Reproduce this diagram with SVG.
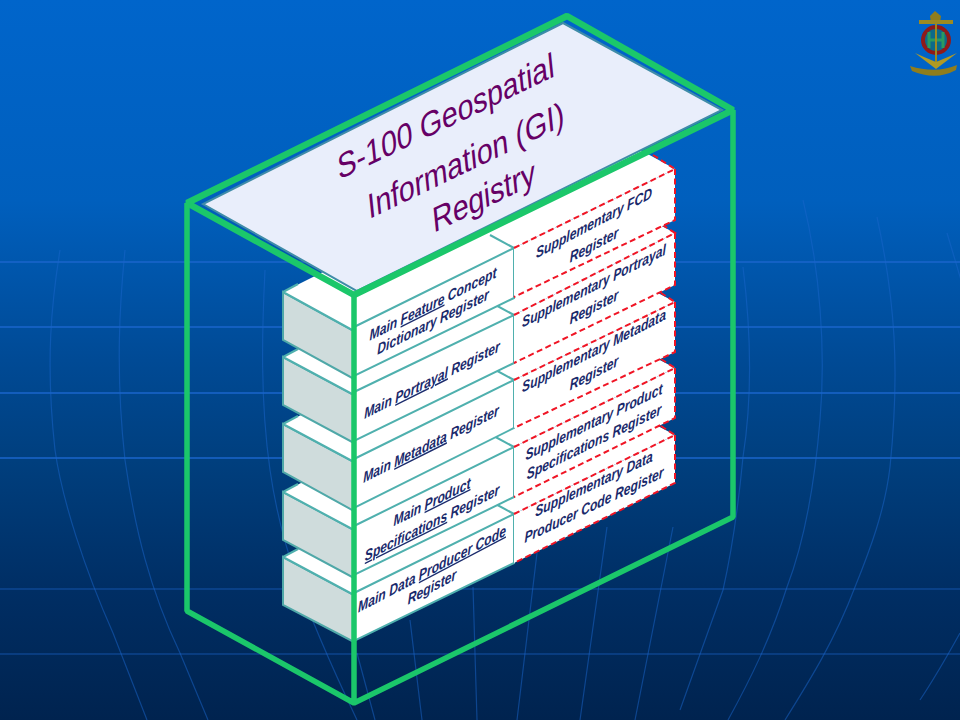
<svg xmlns="http://www.w3.org/2000/svg" width="960" height="720" viewBox="0 0 960 720">
<style>
.grid{fill:none;stroke:#1a66cc;stroke-width:1.5}
.mer{fill:none;stroke:#1a66cc;stroke-width:1.2;opacity:.5}
.top{fill:#fff;stroke:none}
.front{fill:#fff;stroke:#4fb0ae;stroke-width:2}
.side{fill:#cfdcdc;stroke:#4fa8a8;stroke-width:2}
.tl{fill:none;stroke:#4fb0ae;stroke-width:2}
.sf{fill:#fff;stroke:none}
.rd{fill:none;stroke:#f01525;stroke-width:2;stroke-dasharray:6 3.5}
.t{font-family:"Liberation Sans",Arial,sans-serif;font-weight:bold;font-style:italic;font-size:15.2px;fill:#1a2a6c;text-anchor:middle}
.u{text-decoration:underline}
.title{font-family:"Liberation Sans",Arial,sans-serif;font-size:35px;fill:#660066;text-anchor:middle}
</style>
<defs>
<linearGradient id="bg" x1="0" y1="0" x2="0" y2="1">
<stop offset="0" stop-color="#0065cb"/><stop offset=".28" stop-color="#005fbd"/><stop offset=".5" stop-color="#004a95"/><stop offset=".64" stop-color="#003f7e"/><stop offset=".82" stop-color="#002e64"/><stop offset="1" stop-color="#00234f"/>
</linearGradient>
</defs>
<g id="background">
<rect width="960" height="720" fill="url(#bg)"/>
<g class="grid">
<path d="M0 262H960M0 327H960M0 393H960M0 458H960"/>
<path d="M0 589H960M0 654H960" opacity=".45"/>
</g>
<g class="mer">
<path d="M60 250C52 300 45 360 55 450C62 500 85 570 113 633L147 720"/>
<path d="M125 250C120 300 115 370 125 460C135 530 150 590 180 653L208 720"/>
<path d="M265 270C262 330 260 400 270 470C280 540 300 600 357 720"/>
<path d="M357 653L375 720M410 620L422 720M473 587L477 720M537 553L517 720M607 527L580 720M673 527L635 720"/>
<path d="M743 267C752 340 752 400 743 457C738 510 732 550 723 590L680 710"/>
<path d="M803 200C820 270 826 350 820 420C815 480 805 540 787 587C770 640 750 680 728 720"/>
<path d="M877 217C895 300 900 370 890 467C885 510 870 550 855 587C835 640 810 680 785 720"/>
<path d="M947 233L967 300M960 633C945 660 930 685 920 700"/>
</g>
</g>
<g id="logo">
<path d="M935 11L941 16L940 23H931L930 16Z" fill="#8f7d1c"/>
<rect x="919" y="20" width="34" height="4" fill="#9c8a22"/>
<circle cx="936" cy="40" r="13" fill="#0d6a8a" stroke="#8f1a1a" stroke-width="4"/>
<path d="M929 32V48M943 32V48M929 40H943" stroke="#2a9a60" stroke-width="3" fill="none"/>
<path d="M936 24V64" stroke="#9c8a22" stroke-width="2"/>
<path d="M915 53L936 69L957 53L948 57L936 62L924 57Z" fill="#b09a24"/>
<path d="M910 66Q936 74 957 65L956 70Q936 81 912 71Z" fill="#8f7d1c"/>
</g>
<g id="block5">
<polygon class="side" points="283,557 354,595 354,642 283,605"/>
<polygon class="top" points="283,557 323,537 635,414 675,435 514,514 354,593 354,595"/>
<path class="tl" d="M283,557L354,595M283,557L298,549"/>
<polygon class="front" points="354,593 514,514 514,563 354,641"/>
<path class="tl" d="M514,514L490,501"/>
<polygon class="sf" points="514,514 675,435 675,483 514,563"/>
<path class="rd" d="M514,514L675,435L661,426M675,435V483L514,563"/>
<text class="t" transform="matrix(.8,-.42,0,1,432,574)">Main Data <tspan class="u">Producer Code</tspan></text>
<text class="t" transform="matrix(.8,-.42,0,1,432,592)">Register</text>
<text class="t" transform="matrix(.8,-.38,0,1,594,489)">Supplementary Data</text>
<text class="t" transform="matrix(.8,-.38,0,1,594,510)">Producer Code Register</text>
</g>
<g id="block4">
<polygon class="side" points="283,492 354,530 354,578 283,540"/>
<polygon class="top" points="283,492 323,472 635,347 675,368 514,447 354,526 354,530"/>
<path class="tl" d="M283,492L354,530M283,492L298,484"/>
<polygon class="front" points="354,526 514,447 514,497 354,575"/>
<path class="tl" d="M514,447L490,434"/>
<polygon class="sf" points="514,447 675,368 675,418 514,497"/>
<path class="rd" d="M514,447L675,368L661,359M675,368V418L514,497"/>
<text class="t" transform="matrix(.8,-.4,0,1,432,507)">Main <tspan class="u">Product</tspan></text>
<text class="t" transform="matrix(.8,-.4,0,1,432,528)"><tspan class="u">Specifications</tspan> Register</text>
<text class="t" transform="matrix(.8,-.39,0,1,594,427)">Supplementary Product</text>
<text class="t" transform="matrix(.8,-.39,0,1,594,447)">Specifications Register</text>
</g>
<g id="block3">
<polygon class="side" points="283,424 354,462 354,511 283,472"/>
<polygon class="top" points="283,424 323,404 635,281 675,302 514,380 354,459 354,462"/>
<path class="tl" d="M283,424L354,462M283,424L298,416"/>
<polygon class="front" points="354,459 514,380 514,428 354,508"/>
<path class="tl" d="M514,380L490,367"/>
<polygon class="sf" points="514,380 675,302 675,352 514,428"/>
<path class="rd" d="M514,380L675,302L661,293M675,302V352L514,428"/>
<text class="t" transform="matrix(.8,-.4,0,1,431,449)">Main <tspan class="u">Metadata</tspan> Register</text>
<text class="t" transform="matrix(.8,-.41,0,1,594,356)">Supplementary Metadata</text>
<text class="t" transform="matrix(.8,-.41,0,1,594,378)">Register</text>
</g>
<g id="block2">
<polygon class="side" points="283,357 354,395 354,443 283,405"/>
<polygon class="top" points="283,357 323,337 635,212 675,233 514,315 354,392 354,395"/>
<path class="tl" d="M283,357L354,395M283,357L298,349"/>
<polygon class="front" points="354,392 514,315 514,363 354,441"/>
<path class="tl" d="M514,315L490,302"/>
<polygon class="sf" points="514,315 675,233 675,285 514,363"/>
<path class="rd" d="M514,315L675,233L661,224M675,233V285L514,363"/>
<text class="t" transform="matrix(.8,-.4,0,1,432,385)">Main <tspan class="u">Portrayal</tspan> Register</text>
<text class="t" transform="matrix(.8,-.41,0,1,594,291)">Supplementary Portrayal</text>
<text class="t" transform="matrix(.8,-.41,0,1,594,312)">Register</text>
</g>
<g id="block1">
<polygon class="side" points="283,292 354,331 354,379 283,340"/>
<polygon class="top" points="283,292 323,272 635,147 675,169 514,248 354,327 354,331"/>
<path class="tl" d="M283,292L354,331M283,292L298,284"/>
<polygon class="front" points="354,327 514,248 514,298 354,376"/>
<path class="tl" d="M514,248L490,235"/>
<polygon class="sf" points="514,248 675,169 675,220 514,297"/>
<path class="rd" d="M514,248L675,169L653,155M675,169V220L514,297"/>
<text class="t" transform="matrix(.8,-.4,0,1,433,309)">Main <tspan class="u">Feature</tspan> Concept</text>
<text class="t" transform="matrix(.8,-.4,0,1,433,327)">Dictionary Register</text>
<text class="t" transform="matrix(.8,-.42,0,1,594,228)">Supplementary FCD</text>
<text class="t" transform="matrix(.8,-.42,0,1,594,250)">Register</text>
</g>
<g id="registry-top">
<polygon points="563,23 722,110 357,291 203,204" fill="#e9eefb" stroke="#3f8ca8" stroke-width="2"/>
<text class="title" transform="matrix(.8,-.385,.1,.98,447,128)">S-100 Geospatial</text>
<text class="title" transform="matrix(.8,-.385,.1,.98,467,172)">Information (GI)</text>
<text class="title" transform="matrix(.8,-.385,.1,.98,485,208)">Registry</text>
</g>
<g id="frame" fill="none" stroke="#1bc76a" stroke-linejoin="bevel">
<path d="M187,203L567,16L733,110L354,295Z" stroke-width="6.5"/>
<path d="M187,203V611L354,703L733,517V110M354,295V703" stroke-width="5.5"/>
</g>
</svg>
